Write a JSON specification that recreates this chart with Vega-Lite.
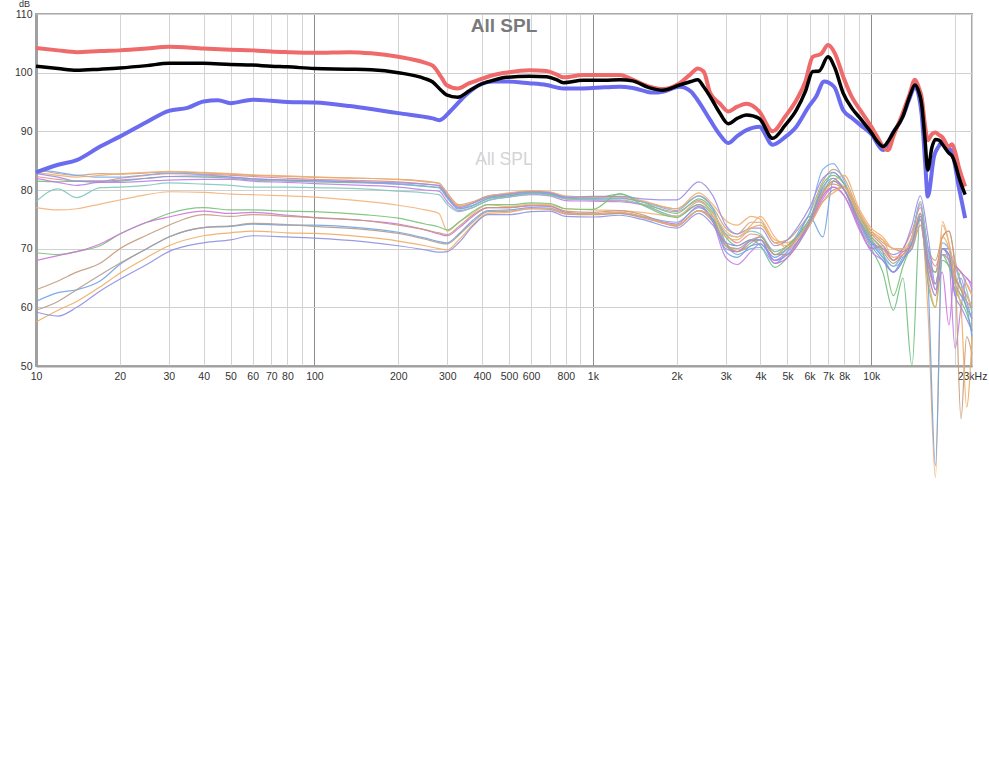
{
"$schema":"https://vega.github.io/schema/vega-lite/v6.json",
"width":936,"height":352,
"autosize":"none",
"padding":{"left":36,"top":14,"right":17,"bottom":404},
"background":"white",
"config":{"view":{"stroke":"#a8a8a8","strokeWidth":2},"font":"Liberation Sans"},
"title":{"text":"All SPL","subtitle":"All SPL","anchor":"middle","offset":-169,"fontSize":19,"fontWeight":"bold","color":"#7a7a7a","font":"Liberation Sans","subtitleFont":"Liberation Sans","subtitleFontSize":17.5,"subtitleColor":"#d4d4d4","subtitlePadding":115},
"datasets":{
"thin":[
{"s":"u1","f":10,"v":82.3},{"s":"u1","f":12,"v":81.8},{"s":"u1","f":14,"v":81.5},{"s":"u1","f":17,"v":81.5},{"s":"u1","f":20,"v":82},{"s":"u1","f":25,"v":82.5},{"s":"u1","f":30,"v":82.8},{"s":"u1","f":40,"v":82.7},{"s":"u1","f":50,"v":82.5},{"s":"u1","f":60,"v":82.3},{"s":"u1","f":80,"v":82},{"s":"u1","f":100,"v":81.8},{"s":"u1","f":150,"v":81.6},{"s":"u1","f":200,"v":81.4},{"s":"u1","f":250,"v":81},{"s":"u1","f":280,"v":80.7},{"s":"u1","f":300,"v":79},{"s":"u1","f":330,"v":77.2},{"s":"u1","f":370,"v":77.8},{"s":"u1","f":420,"v":78.8},{"s":"u1","f":500,"v":79},{"s":"u1","f":600,"v":79.4},{"s":"u1","f":700,"v":79.2},{"s":"u1","f":800,"v":78.5},{"s":"u1","f":1000,"v":78.3},{"s":"u1","f":1250,"v":78.2},{"s":"u1","f":1500,"v":77.6},{"s":"u1","f":2000,"v":76.3},{"s":"u1","f":2400,"v":78.2},{"s":"u1","f":2700,"v":76},{"s":"u1","f":3000,"v":72.5},{"s":"u1","f":3300,"v":71},{"s":"u1","f":3700,"v":72.5},{"s":"u1","f":4000,"v":72.2},{"s":"u1","f":4500,"v":69.5},{"s":"u1","f":5000,"v":70.5},{"s":"u1","f":5500,"v":72.5},{"s":"u1","f":6000,"v":75},{"s":"u1","f":6700,"v":80},{"s":"u1","f":7300,"v":81},{"s":"u1","f":8000,"v":80},{"s":"u1","f":9000,"v":75},{"s":"u1","f":10000,"v":72},{"s":"u1","f":11000,"v":70},{"s":"u1","f":12000,"v":68},{"s":"u1","f":13000,"v":70},{"s":"u1","f":14000,"v":73},{"s":"u1","f":15000,"v":77},{"s":"u1","f":16000,"v":70},{"s":"u1","f":17000,"v":67},{"s":"u1","f":18000,"v":70},{"s":"u1","f":19000,"v":69},{"s":"u1","f":20000,"v":67},{"s":"u1","f":21000,"v":66},{"s":"u1","f":22000,"v":64},{"s":"u1","f":23000,"v":62},
{"s":"u2","f":10,"v":83.5},{"s":"u2","f":12,"v":82.8},{"s":"u2","f":14,"v":82.5},{"s":"u2","f":17,"v":82.8},{"s":"u2","f":20,"v":82.7},{"s":"u2","f":25,"v":82.9},{"s":"u2","f":30,"v":83.1},{"s":"u2","f":40,"v":82.9},{"s":"u2","f":50,"v":82.7},{"s":"u2","f":60,"v":82.5},{"s":"u2","f":80,"v":82.3},{"s":"u2","f":100,"v":82.2},{"s":"u2","f":150,"v":82},{"s":"u2","f":200,"v":81.8},{"s":"u2","f":250,"v":81.5},{"s":"u2","f":280,"v":81.2},{"s":"u2","f":300,"v":79.5},{"s":"u2","f":330,"v":77.5},{"s":"u2","f":370,"v":78},{"s":"u2","f":420,"v":79},{"s":"u2","f":500,"v":79.4},{"s":"u2","f":600,"v":79.8},{"s":"u2","f":700,"v":79.6},{"s":"u2","f":800,"v":78.8},{"s":"u2","f":1000,"v":78.7},{"s":"u2","f":1250,"v":78.6},{"s":"u2","f":1500,"v":78},{"s":"u2","f":2000,"v":76.8},{"s":"u2","f":2400,"v":79},{"s":"u2","f":2700,"v":77},{"s":"u2","f":3000,"v":73.5},{"s":"u2","f":3300,"v":72.5},{"s":"u2","f":3700,"v":74.5},{"s":"u2","f":4000,"v":74.5},{"s":"u2","f":4500,"v":71},{"s":"u2","f":5000,"v":71.5},{"s":"u2","f":5500,"v":73.5},{"s":"u2","f":6000,"v":76},{"s":"u2","f":6700,"v":81.5},{"s":"u2","f":7300,"v":83.5},{"s":"u2","f":8000,"v":82},{"s":"u2","f":9000,"v":76.5},{"s":"u2","f":10000,"v":73},{"s":"u2","f":11000,"v":71},{"s":"u2","f":12000,"v":70},{"s":"u2","f":13000,"v":69.5},{"s":"u2","f":14000,"v":72},{"s":"u2","f":15000,"v":78},{"s":"u2","f":16000,"v":70},{"s":"u2","f":17000,"v":68},{"s":"u2","f":18000,"v":72},{"s":"u2","f":19000,"v":73},{"s":"u2","f":20000,"v":68},{"s":"u2","f":21000,"v":64},{"s":"u2","f":22000,"v":60},{"s":"u2","f":23000,"v":60},
{"s":"u3","f":10,"v":81.5},{"s":"u3","f":12,"v":81.4},{"s":"u3","f":14,"v":81.5},{"s":"u3","f":17,"v":81.3},{"s":"u3","f":20,"v":81.5},{"s":"u3","f":25,"v":82},{"s":"u3","f":30,"v":82.3},{"s":"u3","f":40,"v":82.2},{"s":"u3","f":50,"v":82},{"s":"u3","f":60,"v":81.7},{"s":"u3","f":80,"v":81.5},{"s":"u3","f":100,"v":81.4},{"s":"u3","f":150,"v":81.2},{"s":"u3","f":200,"v":81},{"s":"u3","f":250,"v":80.6},{"s":"u3","f":280,"v":80.4},{"s":"u3","f":300,"v":78.7},{"s":"u3","f":330,"v":76.8},{"s":"u3","f":370,"v":77.3},{"s":"u3","f":420,"v":78.5},{"s":"u3","f":500,"v":79},{"s":"u3","f":600,"v":79.5},{"s":"u3","f":700,"v":79.3},{"s":"u3","f":800,"v":78.6},{"s":"u3","f":1000,"v":78.5},{"s":"u3","f":1250,"v":79.3},{"s":"u3","f":1500,"v":78},{"s":"u3","f":2000,"v":76},{"s":"u3","f":2400,"v":78.5},{"s":"u3","f":2700,"v":76.5},{"s":"u3","f":3000,"v":72},{"s":"u3","f":3300,"v":70.5},{"s":"u3","f":3700,"v":71.5},{"s":"u3","f":4000,"v":70.5},{"s":"u3","f":4500,"v":66.8},{"s":"u3","f":5000,"v":68.5},{"s":"u3","f":5500,"v":71},{"s":"u3","f":6000,"v":74.5},{"s":"u3","f":6700,"v":79.5},{"s":"u3","f":7300,"v":82},{"s":"u3","f":8000,"v":80},{"s":"u3","f":9000,"v":74},{"s":"u3","f":10000,"v":70},{"s":"u3","f":11000,"v":66},{"s":"u3","f":12000,"v":59.5},{"s":"u3","f":13000,"v":65},{"s":"u3","f":14000,"v":50},{"s":"u3","f":15000,"v":76},{"s":"u3","f":16000,"v":68},{"s":"u3","f":17000,"v":66},{"s":"u3","f":18000,"v":69},{"s":"u3","f":19000,"v":67},{"s":"u3","f":20000,"v":65},{"s":"u3","f":21000,"v":63},{"s":"u3","f":22000,"v":60},{"s":"u3","f":23000,"v":58},
{"s":"u4","f":10,"v":82},{"s":"u4","f":12,"v":81.3},{"s":"u4","f":14,"v":80.8},{"s":"u4","f":17,"v":81.3},{"s":"u4","f":20,"v":81.3},{"s":"u4","f":25,"v":81.5},{"s":"u4","f":30,"v":81.7},{"s":"u4","f":40,"v":81.8},{"s":"u4","f":50,"v":81.8},{"s":"u4","f":60,"v":81.5},{"s":"u4","f":80,"v":81.3},{"s":"u4","f":100,"v":81.1},{"s":"u4","f":150,"v":80.8},{"s":"u4","f":200,"v":80.5},{"s":"u4","f":250,"v":80},{"s":"u4","f":280,"v":79.8},{"s":"u4","f":300,"v":78},{"s":"u4","f":330,"v":76.5},{"s":"u4","f":370,"v":77},{"s":"u4","f":420,"v":78.2},{"s":"u4","f":500,"v":78.8},{"s":"u4","f":600,"v":79.2},{"s":"u4","f":700,"v":79},{"s":"u4","f":800,"v":78.2},{"s":"u4","f":1000,"v":78.1},{"s":"u4","f":1250,"v":78},{"s":"u4","f":1500,"v":77.5},{"s":"u4","f":2000,"v":75.5},{"s":"u4","f":2400,"v":77.5},{"s":"u4","f":2700,"v":74.5},{"s":"u4","f":3000,"v":68.5},{"s":"u4","f":3300,"v":67.3},{"s":"u4","f":3700,"v":69.5},{"s":"u4","f":4000,"v":70.8},{"s":"u4","f":4500,"v":68},{"s":"u4","f":5000,"v":69.5},{"s":"u4","f":5500,"v":71.5},{"s":"u4","f":6000,"v":74},{"s":"u4","f":6700,"v":78.5},{"s":"u4","f":7300,"v":80.5},{"s":"u4","f":8000,"v":79},{"s":"u4","f":9000,"v":73.5},{"s":"u4","f":10000,"v":69.5},{"s":"u4","f":11000,"v":68},{"s":"u4","f":12000,"v":66},{"s":"u4","f":13000,"v":68},{"s":"u4","f":14000,"v":72},{"s":"u4","f":15000,"v":77.5},{"s":"u4","f":16000,"v":68},{"s":"u4","f":17000,"v":64},{"s":"u4","f":18000,"v":70},{"s":"u4","f":19000,"v":68},{"s":"u4","f":20000,"v":53},{"s":"u4","f":21000,"v":60},{"s":"u4","f":22000,"v":65},{"s":"u4","f":23000,"v":63},
{"s":"u5","f":10,"v":83.5},{"s":"u5","f":12,"v":83},{"s":"u5","f":14,"v":82.5},{"s":"u5","f":17,"v":82.2},{"s":"u5","f":20,"v":82.2},{"s":"u5","f":25,"v":82.6},{"s":"u5","f":30,"v":82.9},{"s":"u5","f":40,"v":82.6},{"s":"u5","f":50,"v":82.2},{"s":"u5","f":60,"v":81.9},{"s":"u5","f":80,"v":81.7},{"s":"u5","f":100,"v":81.6},{"s":"u5","f":150,"v":81.3},{"s":"u5","f":200,"v":81},{"s":"u5","f":250,"v":80.7},{"s":"u5","f":280,"v":80.4},{"s":"u5","f":300,"v":78.6},{"s":"u5","f":330,"v":76.8},{"s":"u5","f":370,"v":77.4},{"s":"u5","f":420,"v":78.6},{"s":"u5","f":500,"v":79.2},{"s":"u5","f":600,"v":79.6},{"s":"u5","f":700,"v":79.4},{"s":"u5","f":800,"v":78.7},{"s":"u5","f":1000,"v":78.6},{"s":"u5","f":1250,"v":78.6},{"s":"u5","f":1500,"v":78},{"s":"u5","f":2000,"v":76.5},{"s":"u5","f":2400,"v":79},{"s":"u5","f":2700,"v":76.8},{"s":"u5","f":3000,"v":71},{"s":"u5","f":3300,"v":69},{"s":"u5","f":3700,"v":70},{"s":"u5","f":4000,"v":70.2},{"s":"u5","f":4500,"v":67.5},{"s":"u5","f":5000,"v":69.5},{"s":"u5","f":5500,"v":73},{"s":"u5","f":6000,"v":76},{"s":"u5","f":6700,"v":83.5},{"s":"u5","f":7300,"v":84.5},{"s":"u5","f":8000,"v":81.5},{"s":"u5","f":9000,"v":75.5},{"s":"u5","f":10000,"v":71.5},{"s":"u5","f":11000,"v":69},{"s":"u5","f":12000,"v":67},{"s":"u5","f":13000,"v":69},{"s":"u5","f":14000,"v":71},{"s":"u5","f":15000,"v":76},{"s":"u5","f":16000,"v":70},{"s":"u5","f":17000,"v":63},{"s":"u5","f":18000,"v":71},{"s":"u5","f":19000,"v":70},{"s":"u5","f":20000,"v":67},{"s":"u5","f":21000,"v":64},{"s":"u5","f":22000,"v":62},{"s":"u5","f":23000,"v":60},
{"s":"u6","f":10,"v":78},{"s":"u6","f":12,"v":80.2},{"s":"u6","f":14,"v":78.7},{"s":"u6","f":17,"v":80.4},{"s":"u6","f":20,"v":80.5},{"s":"u6","f":25,"v":80.8},{"s":"u6","f":30,"v":81.2},{"s":"u6","f":40,"v":81},{"s":"u6","f":50,"v":80.8},{"s":"u6","f":60,"v":80.5},{"s":"u6","f":80,"v":80.5},{"s":"u6","f":100,"v":80.4},{"s":"u6","f":150,"v":80.2},{"s":"u6","f":200,"v":79.8},{"s":"u6","f":250,"v":79.5},{"s":"u6","f":280,"v":79.2},{"s":"u6","f":300,"v":77.5},{"s":"u6","f":330,"v":76.3},{"s":"u6","f":370,"v":77},{"s":"u6","f":420,"v":78.2},{"s":"u6","f":500,"v":78.8},{"s":"u6","f":600,"v":79.3},{"s":"u6","f":700,"v":79.1},{"s":"u6","f":800,"v":78.5},{"s":"u6","f":1000,"v":78.4},{"s":"u6","f":1250,"v":78.3},{"s":"u6","f":1500,"v":77.6},{"s":"u6","f":2000,"v":75.5},{"s":"u6","f":2400,"v":78},{"s":"u6","f":2700,"v":76.2},{"s":"u6","f":3000,"v":72.5},{"s":"u6","f":3300,"v":72},{"s":"u6","f":3700,"v":73},{"s":"u6","f":4000,"v":72.5},{"s":"u6","f":4500,"v":69.5},{"s":"u6","f":5000,"v":70.5},{"s":"u6","f":5500,"v":72.5},{"s":"u6","f":6000,"v":75},{"s":"u6","f":6700,"v":80},{"s":"u6","f":7300,"v":83},{"s":"u6","f":8000,"v":81},{"s":"u6","f":9000,"v":75.5},{"s":"u6","f":10000,"v":71.5},{"s":"u6","f":11000,"v":68.5},{"s":"u6","f":12000,"v":67},{"s":"u6","f":13000,"v":68},{"s":"u6","f":14000,"v":72},{"s":"u6","f":15000,"v":78},{"s":"u6","f":16000,"v":69},{"s":"u6","f":17000,"v":66},{"s":"u6","f":18000,"v":69},{"s":"u6","f":19000,"v":69},{"s":"u6","f":20000,"v":64},{"s":"u6","f":21000,"v":66},{"s":"u6","f":22000,"v":63},{"s":"u6","f":23000,"v":59},
{"s":"u7","f":10,"v":83},{"s":"u7","f":12,"v":82.5},{"s":"u7","f":14,"v":82.2},{"s":"u7","f":17,"v":82.5},{"s":"u7","f":20,"v":82.8},{"s":"u7","f":25,"v":83},{"s":"u7","f":30,"v":83.2},{"s":"u7","f":40,"v":83},{"s":"u7","f":50,"v":82.8},{"s":"u7","f":60,"v":82.6},{"s":"u7","f":80,"v":82.4},{"s":"u7","f":100,"v":82.2},{"s":"u7","f":150,"v":82},{"s":"u7","f":200,"v":81.8},{"s":"u7","f":250,"v":81.4},{"s":"u7","f":280,"v":81.1},{"s":"u7","f":300,"v":79.3},{"s":"u7","f":330,"v":77.3},{"s":"u7","f":370,"v":77.8},{"s":"u7","f":420,"v":78.9},{"s":"u7","f":500,"v":79.5},{"s":"u7","f":600,"v":79.9},{"s":"u7","f":700,"v":79.7},{"s":"u7","f":800,"v":79},{"s":"u7","f":1000,"v":78.8},{"s":"u7","f":1250,"v":78.8},{"s":"u7","f":1500,"v":78.2},{"s":"u7","f":2000,"v":76.8},{"s":"u7","f":2400,"v":79.5},{"s":"u7","f":2700,"v":77.5},{"s":"u7","f":3000,"v":74.8},{"s":"u7","f":3300,"v":74},{"s":"u7","f":3700,"v":75.5},{"s":"u7","f":4000,"v":75},{"s":"u7","f":4500,"v":71.5},{"s":"u7","f":5000,"v":71},{"s":"u7","f":5500,"v":72.5},{"s":"u7","f":6000,"v":75},{"s":"u7","f":6700,"v":79},{"s":"u7","f":7300,"v":81.5},{"s":"u7","f":8000,"v":82.5},{"s":"u7","f":9000,"v":77},{"s":"u7","f":10000,"v":73.5},{"s":"u7","f":11000,"v":72},{"s":"u7","f":12000,"v":70},{"s":"u7","f":13000,"v":70},{"s":"u7","f":14000,"v":72},{"s":"u7","f":15000,"v":76},{"s":"u7","f":16000,"v":58.7},{"s":"u7","f":17000,"v":31},{"s":"u7","f":18000,"v":74.6},{"s":"u7","f":19000,"v":71},{"s":"u7","f":20000,"v":65},{"s":"u7","f":21000,"v":63},{"s":"u7","f":22000,"v":62},{"s":"u7","f":23000,"v":60},
{"s":"u8","f":10,"v":82.8},{"s":"u8","f":12,"v":82.2},{"s":"u8","f":14,"v":81.5},{"s":"u8","f":17,"v":81.5},{"s":"u8","f":20,"v":81.7},{"s":"u8","f":25,"v":82},{"s":"u8","f":30,"v":82.3},{"s":"u8","f":40,"v":82.4},{"s":"u8","f":50,"v":82.2},{"s":"u8","f":60,"v":81.9},{"s":"u8","f":80,"v":81.7},{"s":"u8","f":100,"v":81.6},{"s":"u8","f":150,"v":81.4},{"s":"u8","f":200,"v":81.2},{"s":"u8","f":250,"v":81},{"s":"u8","f":280,"v":80.8},{"s":"u8","f":300,"v":79},{"s":"u8","f":330,"v":77},{"s":"u8","f":370,"v":77.7},{"s":"u8","f":420,"v":78.8},{"s":"u8","f":500,"v":79.3},{"s":"u8","f":600,"v":79.7},{"s":"u8","f":700,"v":79.5},{"s":"u8","f":800,"v":78.8},{"s":"u8","f":1000,"v":78.9},{"s":"u8","f":1250,"v":78.9},{"s":"u8","f":1500,"v":78.5},{"s":"u8","f":2000,"v":78.3},{"s":"u8","f":2400,"v":81.4},{"s":"u8","f":2700,"v":79},{"s":"u8","f":3000,"v":74},{"s":"u8","f":3300,"v":72.5},{"s":"u8","f":3700,"v":73.5},{"s":"u8","f":4000,"v":73.5},{"s":"u8","f":4500,"v":70.5},{"s":"u8","f":5000,"v":71.5},{"s":"u8","f":5500,"v":74},{"s":"u8","f":6000,"v":77},{"s":"u8","f":6700,"v":82},{"s":"u8","f":7300,"v":83},{"s":"u8","f":8000,"v":81},{"s":"u8","f":9000,"v":75},{"s":"u8","f":10000,"v":71},{"s":"u8","f":11000,"v":70},{"s":"u8","f":12000,"v":69},{"s":"u8","f":13000,"v":70},{"s":"u8","f":14000,"v":74},{"s":"u8","f":15000,"v":79},{"s":"u8","f":16000,"v":72},{"s":"u8","f":17000,"v":64},{"s":"u8","f":18000,"v":70},{"s":"u8","f":19000,"v":69},{"s":"u8","f":20000,"v":62},{"s":"u8","f":21000,"v":65},{"s":"u8","f":22000,"v":61},{"s":"u8","f":23000,"v":58},
{"s":"u9","f":10,"v":77},{"s":"u9","f":12,"v":76.6},{"s":"u9","f":14,"v":76.8},{"s":"u9","f":17,"v":77.6},{"s":"u9","f":20,"v":78.3},{"s":"u9","f":25,"v":79.2},{"s":"u9","f":30,"v":79.7},{"s":"u9","f":40,"v":79.6},{"s":"u9","f":50,"v":79.3},{"s":"u9","f":60,"v":79.2},{"s":"u9","f":80,"v":79},{"s":"u9","f":100,"v":78.8},{"s":"u9","f":150,"v":78.1},{"s":"u9","f":200,"v":77.4},{"s":"u9","f":250,"v":76.6},{"s":"u9","f":280,"v":76},{"s":"u9","f":300,"v":73},{"s":"u9","f":330,"v":74.5},{"s":"u9","f":370,"v":76},{"s":"u9","f":420,"v":77.5},{"s":"u9","f":500,"v":77.2},{"s":"u9","f":600,"v":77.6},{"s":"u9","f":700,"v":77.5},{"s":"u9","f":800,"v":76.8},{"s":"u9","f":1000,"v":76.6},{"s":"u9","f":1250,"v":76.5},{"s":"u9","f":1500,"v":76.2},{"s":"u9","f":2000,"v":75.5},{"s":"u9","f":2400,"v":78},{"s":"u9","f":2700,"v":76},{"s":"u9","f":3000,"v":73},{"s":"u9","f":3300,"v":72},{"s":"u9","f":3700,"v":74},{"s":"u9","f":4000,"v":75.5},{"s":"u9","f":4500,"v":72},{"s":"u9","f":5000,"v":70},{"s":"u9","f":5500,"v":72},{"s":"u9","f":6000,"v":75},{"s":"u9","f":6700,"v":79.5},{"s":"u9","f":7300,"v":81.5},{"s":"u9","f":8000,"v":80.5},{"s":"u9","f":9000,"v":75.5},{"s":"u9","f":10000,"v":72.5},{"s":"u9","f":11000,"v":71.5},{"s":"u9","f":12000,"v":70},{"s":"u9","f":13000,"v":70},{"s":"u9","f":14000,"v":70.5},{"s":"u9","f":15000,"v":75},{"s":"u9","f":16000,"v":66},{"s":"u9","f":17000,"v":62},{"s":"u9","f":18000,"v":74},{"s":"u9","f":19000,"v":71},{"s":"u9","f":20000,"v":66},{"s":"u9","f":21000,"v":62},{"s":"u9","f":22000,"v":64},{"s":"u9","f":23000,"v":62},
{"s":"l1","f":10,"v":69.3},{"s":"l1","f":12,"v":69},{"s":"l1","f":14,"v":69.5},{"s":"l1","f":17,"v":70.5},{"s":"l1","f":20,"v":72.5},{"s":"l1","f":25,"v":74.5},{"s":"l1","f":30,"v":76},{"s":"l1","f":40,"v":77},{"s":"l1","f":50,"v":76.6},{"s":"l1","f":60,"v":76.6},{"s":"l1","f":80,"v":76.4},{"s":"l1","f":100,"v":76.3},{"s":"l1","f":150,"v":75.8},{"s":"l1","f":200,"v":75.2},{"s":"l1","f":250,"v":74.2},{"s":"l1","f":280,"v":73.7},{"s":"l1","f":300,"v":73.2},{"s":"l1","f":330,"v":74.5},{"s":"l1","f":370,"v":76.3},{"s":"l1","f":420,"v":77.5},{"s":"l1","f":500,"v":77.5},{"s":"l1","f":600,"v":77.8},{"s":"l1","f":700,"v":77.7},{"s":"l1","f":800,"v":76.8},{"s":"l1","f":1000,"v":76.7},{"s":"l1","f":1250,"v":79.4},{"s":"l1","f":1500,"v":77.5},{"s":"l1","f":2000,"v":75.3},{"s":"l1","f":2400,"v":77.5},{"s":"l1","f":2700,"v":75.5},{"s":"l1","f":3000,"v":70.5},{"s":"l1","f":3300,"v":69.5},{"s":"l1","f":3700,"v":71},{"s":"l1","f":4000,"v":72},{"s":"l1","f":4500,"v":69},{"s":"l1","f":5000,"v":70.5},{"s":"l1","f":5500,"v":72.5},{"s":"l1","f":6000,"v":75},{"s":"l1","f":6700,"v":81},{"s":"l1","f":7300,"v":82.5},{"s":"l1","f":8000,"v":81},{"s":"l1","f":9000,"v":76},{"s":"l1","f":10000,"v":72},{"s":"l1","f":11000,"v":69.5},{"s":"l1","f":12000,"v":62},{"s":"l1","f":13000,"v":67},{"s":"l1","f":14000,"v":71},{"s":"l1","f":15000,"v":75},{"s":"l1","f":16000,"v":64},{"s":"l1","f":17000,"v":60},{"s":"l1","f":18000,"v":68},{"s":"l1","f":19000,"v":67},{"s":"l1","f":20000,"v":63},{"s":"l1","f":21000,"v":61},{"s":"l1","f":22000,"v":59},{"s":"l1","f":23000,"v":56},
{"s":"l2","f":10,"v":68},{"s":"l2","f":12,"v":68.8},{"s":"l2","f":14,"v":69.5},{"s":"l2","f":17,"v":70.8},{"s":"l2","f":20,"v":72.5},{"s":"l2","f":25,"v":74.5},{"s":"l2","f":30,"v":75.4},{"s":"l2","f":40,"v":76.4},{"s":"l2","f":50,"v":76},{"s":"l2","f":60,"v":76.2},{"s":"l2","f":80,"v":75.7},{"s":"l2","f":100,"v":75.3},{"s":"l2","f":150,"v":74.8},{"s":"l2","f":200,"v":74.2},{"s":"l2","f":250,"v":73.2},{"s":"l2","f":280,"v":72.5},{"s":"l2","f":300,"v":72.2},{"s":"l2","f":330,"v":73.5},{"s":"l2","f":370,"v":75.5},{"s":"l2","f":420,"v":77},{"s":"l2","f":500,"v":77},{"s":"l2","f":600,"v":77.3},{"s":"l2","f":700,"v":77.2},{"s":"l2","f":800,"v":76.2},{"s":"l2","f":1000,"v":75.9},{"s":"l2","f":1250,"v":76.2},{"s":"l2","f":1500,"v":75.5},{"s":"l2","f":2000,"v":74.2},{"s":"l2","f":2400,"v":77.2},{"s":"l2","f":2700,"v":74.8},{"s":"l2","f":3000,"v":70},{"s":"l2","f":3300,"v":69.5},{"s":"l2","f":3700,"v":71.3},{"s":"l2","f":4000,"v":71.5},{"s":"l2","f":4500,"v":67.5},{"s":"l2","f":5000,"v":68.5},{"s":"l2","f":5500,"v":71},{"s":"l2","f":6000,"v":74},{"s":"l2","f":6700,"v":79},{"s":"l2","f":7300,"v":80.5},{"s":"l2","f":8000,"v":79},{"s":"l2","f":9000,"v":74},{"s":"l2","f":10000,"v":70},{"s":"l2","f":11000,"v":70.5},{"s":"l2","f":12000,"v":68},{"s":"l2","f":13000,"v":69.5},{"s":"l2","f":14000,"v":70.5},{"s":"l2","f":15000,"v":75.5},{"s":"l2","f":16000,"v":68},{"s":"l2","f":17000,"v":63},{"s":"l2","f":18000,"v":66},{"s":"l2","f":19000,"v":57},{"s":"l2","f":20000,"v":67},{"s":"l2","f":21000,"v":66},{"s":"l2","f":22000,"v":65},{"s":"l2","f":23000,"v":64},
{"s":"l3","f":10,"v":63},{"s":"l3","f":12,"v":64.5},{"s":"l3","f":14,"v":66},{"s":"l3","f":17,"v":67.5},{"s":"l3","f":20,"v":70},{"s":"l3","f":25,"v":72.3},{"s":"l3","f":30,"v":74},{"s":"l3","f":40,"v":75.8},{"s":"l3","f":50,"v":75.5},{"s":"l3","f":60,"v":75.8},{"s":"l3","f":80,"v":75.5},{"s":"l3","f":100,"v":75.3},{"s":"l3","f":150,"v":74.8},{"s":"l3","f":200,"v":74},{"s":"l3","f":250,"v":73.2},{"s":"l3","f":280,"v":72.7},{"s":"l3","f":300,"v":72.4},{"s":"l3","f":330,"v":73.8},{"s":"l3","f":370,"v":75.7},{"s":"l3","f":420,"v":77},{"s":"l3","f":500,"v":77},{"s":"l3","f":600,"v":77.4},{"s":"l3","f":700,"v":77.3},{"s":"l3","f":800,"v":76.4},{"s":"l3","f":1000,"v":76.2},{"s":"l3","f":1250,"v":76.5},{"s":"l3","f":1500,"v":75.8},{"s":"l3","f":2000,"v":73.8},{"s":"l3","f":2400,"v":76.5},{"s":"l3","f":2700,"v":75},{"s":"l3","f":3000,"v":71},{"s":"l3","f":3300,"v":69.5},{"s":"l3","f":3700,"v":70.5},{"s":"l3","f":4000,"v":71.5},{"s":"l3","f":4500,"v":69},{"s":"l3","f":5000,"v":69},{"s":"l3","f":5500,"v":71.5},{"s":"l3","f":6000,"v":74},{"s":"l3","f":6700,"v":78},{"s":"l3","f":7300,"v":80},{"s":"l3","f":8000,"v":80.5},{"s":"l3","f":9000,"v":76},{"s":"l3","f":10000,"v":72.5},{"s":"l3","f":11000,"v":70.5},{"s":"l3","f":12000,"v":68},{"s":"l3","f":13000,"v":69},{"s":"l3","f":14000,"v":70},{"s":"l3","f":15000,"v":74},{"s":"l3","f":16000,"v":67},{"s":"l3","f":17000,"v":66},{"s":"l3","f":18000,"v":72},{"s":"l3","f":19000,"v":73},{"s":"l3","f":20000,"v":66},{"s":"l3","f":21000,"v":41},{"s":"l3","f":22000,"v":55},{"s":"l3","f":23000,"v":52},
{"s":"l4","f":10,"v":61},{"s":"l4","f":12,"v":62.5},{"s":"l4","f":14,"v":63},{"s":"l4","f":17,"v":64.5},{"s":"l4","f":20,"v":67.3},{"s":"l4","f":25,"v":70},{"s":"l4","f":30,"v":72},{"s":"l4","f":40,"v":73.6},{"s":"l4","f":50,"v":73.8},{"s":"l4","f":60,"v":74.2},{"s":"l4","f":80,"v":74},{"s":"l4","f":100,"v":74},{"s":"l4","f":150,"v":73.5},{"s":"l4","f":200,"v":72.8},{"s":"l4","f":250,"v":71.8},{"s":"l4","f":280,"v":71.2},{"s":"l4","f":300,"v":71},{"s":"l4","f":330,"v":72.5},{"s":"l4","f":370,"v":74.8},{"s":"l4","f":420,"v":76.5},{"s":"l4","f":500,"v":76.6},{"s":"l4","f":600,"v":77},{"s":"l4","f":700,"v":76.9},{"s":"l4","f":800,"v":76},{"s":"l4","f":1000,"v":75.9},{"s":"l4","f":1250,"v":76},{"s":"l4","f":1500,"v":75.5},{"s":"l4","f":2000,"v":74.5},{"s":"l4","f":2400,"v":77},{"s":"l4","f":2700,"v":75},{"s":"l4","f":3000,"v":69.5},{"s":"l4","f":3300,"v":68.5},{"s":"l4","f":3700,"v":70.5},{"s":"l4","f":4000,"v":70.8},{"s":"l4","f":4500,"v":68.5},{"s":"l4","f":5000,"v":70},{"s":"l4","f":5500,"v":72.5},{"s":"l4","f":6000,"v":75.5},{"s":"l4","f":6700,"v":72},{"s":"l4","f":7300,"v":81.5},{"s":"l4","f":8000,"v":80},{"s":"l4","f":9000,"v":75},{"s":"l4","f":10000,"v":71},{"s":"l4","f":11000,"v":68.5},{"s":"l4","f":12000,"v":66},{"s":"l4","f":13000,"v":68.5},{"s":"l4","f":14000,"v":70},{"s":"l4","f":15000,"v":75.5},{"s":"l4","f":16000,"v":64},{"s":"l4","f":17000,"v":33},{"s":"l4","f":18000,"v":70},{"s":"l4","f":19000,"v":70},{"s":"l4","f":20000,"v":64},{"s":"l4","f":21000,"v":62},{"s":"l4","f":22000,"v":60},{"s":"l4","f":23000,"v":55},
{"s":"l5","f":10,"v":59.5},{"s":"l5","f":12,"v":61},{"s":"l5","f":14,"v":63},{"s":"l5","f":17,"v":65.5},{"s":"l5","f":20,"v":67.5},{"s":"l5","f":25,"v":70},{"s":"l5","f":30,"v":72},{"s":"l5","f":40,"v":73.6},{"s":"l5","f":50,"v":73.9},{"s":"l5","f":60,"v":74.3},{"s":"l5","f":80,"v":74.1},{"s":"l5","f":100,"v":73.8},{"s":"l5","f":150,"v":73.3},{"s":"l5","f":200,"v":72.6},{"s":"l5","f":250,"v":71.6},{"s":"l5","f":280,"v":71},{"s":"l5","f":300,"v":70.8},{"s":"l5","f":330,"v":72.3},{"s":"l5","f":370,"v":74.5},{"s":"l5","f":420,"v":76.3},{"s":"l5","f":500,"v":76.4},{"s":"l5","f":600,"v":76.8},{"s":"l5","f":700,"v":76.7},{"s":"l5","f":800,"v":75.9},{"s":"l5","f":1000,"v":75.8},{"s":"l5","f":1250,"v":76},{"s":"l5","f":1500,"v":75.3},{"s":"l5","f":2000,"v":74},{"s":"l5","f":2400,"v":76.5},{"s":"l5","f":2700,"v":74.5},{"s":"l5","f":3000,"v":70.5},{"s":"l5","f":3300,"v":70},{"s":"l5","f":3700,"v":71.5},{"s":"l5","f":4000,"v":72},{"s":"l5","f":4500,"v":69},{"s":"l5","f":5000,"v":70},{"s":"l5","f":5500,"v":72},{"s":"l5","f":6000,"v":74.5},{"s":"l5","f":6700,"v":79.5},{"s":"l5","f":7300,"v":81.5},{"s":"l5","f":8000,"v":80},{"s":"l5","f":9000,"v":75},{"s":"l5","f":10000,"v":71.5},{"s":"l5","f":11000,"v":69.5},{"s":"l5","f":12000,"v":67.5},{"s":"l5","f":13000,"v":69},{"s":"l5","f":14000,"v":71},{"s":"l5","f":15000,"v":76},{"s":"l5","f":16000,"v":67},{"s":"l5","f":17000,"v":64},{"s":"l5","f":18000,"v":69},{"s":"l5","f":19000,"v":68},{"s":"l5","f":20000,"v":65},{"s":"l5","f":21000,"v":63},{"s":"l5","f":22000,"v":61},{"s":"l5","f":23000,"v":60},
{"s":"l6","f":10,"v":57.5},{"s":"l6","f":12,"v":59.5},{"s":"l6","f":14,"v":61},{"s":"l6","f":17,"v":63.5},{"s":"l6","f":20,"v":65.8},{"s":"l6","f":25,"v":68.5},{"s":"l6","f":30,"v":70.5},{"s":"l6","f":40,"v":72.2},{"s":"l6","f":50,"v":72.7},{"s":"l6","f":60,"v":73},{"s":"l6","f":80,"v":72.7},{"s":"l6","f":100,"v":72.6},{"s":"l6","f":150,"v":72},{"s":"l6","f":200,"v":71.3},{"s":"l6","f":250,"v":70.5},{"s":"l6","f":280,"v":70},{"s":"l6","f":300,"v":69.8},{"s":"l6","f":330,"v":71.5},{"s":"l6","f":370,"v":74},{"s":"l6","f":420,"v":76},{"s":"l6","f":500,"v":76.2},{"s":"l6","f":600,"v":76.8},{"s":"l6","f":700,"v":76.8},{"s":"l6","f":800,"v":76},{"s":"l6","f":1000,"v":75.9},{"s":"l6","f":1250,"v":76.2},{"s":"l6","f":1500,"v":75.5},{"s":"l6","f":2000,"v":74},{"s":"l6","f":2400,"v":76.5},{"s":"l6","f":2700,"v":75.5},{"s":"l6","f":3000,"v":72},{"s":"l6","f":3300,"v":71.5},{"s":"l6","f":3700,"v":73.5},{"s":"l6","f":4000,"v":74},{"s":"l6","f":4500,"v":71},{"s":"l6","f":5000,"v":70.5},{"s":"l6","f":5500,"v":72},{"s":"l6","f":6000,"v":74},{"s":"l6","f":6700,"v":78},{"s":"l6","f":7300,"v":79.5},{"s":"l6","f":8000,"v":80.5},{"s":"l6","f":9000,"v":76},{"s":"l6","f":10000,"v":73},{"s":"l6","f":11000,"v":71.5},{"s":"l6","f":12000,"v":68.5},{"s":"l6","f":13000,"v":69},{"s":"l6","f":14000,"v":70.5},{"s":"l6","f":15000,"v":75},{"s":"l6","f":16000,"v":65},{"s":"l6","f":17000,"v":60},{"s":"l6","f":18000,"v":72},{"s":"l6","f":19000,"v":70},{"s":"l6","f":20000,"v":64},{"s":"l6","f":21000,"v":60},{"s":"l6","f":22000,"v":43},{"s":"l6","f":23000,"v":55},
{"s":"l7","f":10,"v":59.2},{"s":"l7","f":12,"v":58.5},{"s":"l7","f":14,"v":60},{"s":"l7","f":17,"v":62.8},{"s":"l7","f":20,"v":64.8},{"s":"l7","f":25,"v":67.3},{"s":"l7","f":30,"v":69.5},{"s":"l7","f":40,"v":71},{"s":"l7","f":50,"v":71.5},{"s":"l7","f":60,"v":72.2},{"s":"l7","f":80,"v":72},{"s":"l7","f":100,"v":71.8},{"s":"l7","f":150,"v":71.2},{"s":"l7","f":200,"v":70.5},{"s":"l7","f":250,"v":69.8},{"s":"l7","f":280,"v":69.4},{"s":"l7","f":300,"v":69.5},{"s":"l7","f":330,"v":71},{"s":"l7","f":370,"v":73.8},{"s":"l7","f":420,"v":75.8},{"s":"l7","f":500,"v":75.8},{"s":"l7","f":600,"v":76.3},{"s":"l7","f":700,"v":76.4},{"s":"l7","f":800,"v":75.5},{"s":"l7","f":1000,"v":75.4},{"s":"l7","f":1250,"v":75.7},{"s":"l7","f":1500,"v":75},{"s":"l7","f":2000,"v":73.5},{"s":"l7","f":2400,"v":76},{"s":"l7","f":2700,"v":74},{"s":"l7","f":3000,"v":71},{"s":"l7","f":3300,"v":70.5},{"s":"l7","f":3700,"v":71.5},{"s":"l7","f":4000,"v":71.5},{"s":"l7","f":4500,"v":68},{"s":"l7","f":5000,"v":69},{"s":"l7","f":5500,"v":71.5},{"s":"l7","f":6000,"v":74.5},{"s":"l7","f":6700,"v":80.5},{"s":"l7","f":7300,"v":82},{"s":"l7","f":8000,"v":80},{"s":"l7","f":9000,"v":74.5},{"s":"l7","f":10000,"v":70.5},{"s":"l7","f":11000,"v":68},{"s":"l7","f":12000,"v":66},{"s":"l7","f":13000,"v":68},{"s":"l7","f":14000,"v":71},{"s":"l7","f":15000,"v":75},{"s":"l7","f":16000,"v":66},{"s":"l7","f":17000,"v":62},{"s":"l7","f":18000,"v":70},{"s":"l7","f":19000,"v":69},{"s":"l7","f":20000,"v":62},{"s":"l7","f":21000,"v":60},{"s":"l7","f":22000,"v":58},{"s":"l7","f":23000,"v":56}
],
"thick":[
{"s":"B","f":10,"v":83.0},{"s":"B","f":12,"v":84.3},{"s":"B","f":14,"v":85.1},{"s":"B","f":17,"v":87.4},{"s":"B","f":20,"v":89.1},{"s":"B","f":25,"v":91.6},{"s":"B","f":30,"v":93.5},{"s":"B","f":35,"v":94.0},{"s":"B","f":40,"v":95.1},{"s":"B","f":45,"v":95.3},{"s":"B","f":50,"v":94.8},{"s":"B","f":60,"v":95.4},{"s":"B","f":70,"v":95.2},{"s":"B","f":80,"v":95.0},{"s":"B","f":100,"v":94.9},{"s":"B","f":134,"v":94.3},{"s":"B","f":160,"v":93.8},{"s":"B","f":200,"v":93.1},{"s":"B","f":266,"v":92.2},{"s":"B","f":281,"v":91.9},{"s":"B","f":310,"v":93.6},{"s":"B","f":350,"v":96.2},{"s":"B","f":391,"v":97.9},{"s":"B","f":438,"v":98.5},{"s":"B","f":489,"v":98.5},{"s":"B","f":591,"v":98.2},{"s":"B","f":681,"v":97.9},{"s":"B","f":784,"v":97.3},{"s":"B","f":921,"v":97.3},{"s":"B","f":1100,"v":97.5},{"s":"B","f":1250,"v":97.6},{"s":"B","f":1390,"v":97.4},{"s":"B","f":1640,"v":96.6},{"s":"B","f":1800,"v":96.8},{"s":"B","f":2050,"v":97.6},{"s":"B","f":2250,"v":96.8},{"s":"B","f":2380,"v":95.3},{"s":"B","f":2640,"v":91.9},{"s":"B","f":2850,"v":89.5},{"s":"B","f":3060,"v":88.0},{"s":"B","f":3300,"v":89.2},{"s":"B","f":3565,"v":90.2},{"s":"B","f":3960,"v":90.8},{"s":"B","f":4420,"v":87.7},{"s":"B","f":4900,"v":89.0},{"s":"B","f":5380,"v":90.8},{"s":"B","f":5960,"v":94.2},{"s":"B","f":6330,"v":95.9},{"s":"B","f":6770,"v":98.5},{"s":"B","f":7350,"v":97.6},{"s":"B","f":7930,"v":93.6},{"s":"B","f":8500,"v":92.3},{"s":"B","f":9130,"v":91.1},{"s":"B","f":10000,"v":89.5},{"s":"B","f":11030,"v":86.8},{"s":"B","f":11950,"v":89.7},{"s":"B","f":12970,"v":92.5},{"s":"B","f":13700,"v":95.5},{"s":"B","f":14350,"v":97.6},{"s":"B","f":15150,"v":93.1},{"s":"B","f":15600,"v":85.0},{"s":"B","f":15950,"v":78.9},{"s":"B","f":16800,"v":85.7},{"s":"B","f":17500,"v":87.5},{"s":"B","f":18000,"v":88.3},{"s":"B","f":18990,"v":87.1},{"s":"B","f":19500,"v":86.5},{"s":"B","f":20600,"v":80.6},{"s":"B","f":21730,"v":75.2},
{"s":"R","f":10,"v":104.2},{"s":"R","f":12,"v":103.8},{"s":"R","f":14,"v":103.5},{"s":"R","f":17,"v":103.7},{"s":"R","f":20,"v":103.8},{"s":"R","f":25,"v":104.1},{"s":"R","f":30,"v":104.4},{"s":"R","f":40,"v":104.1},{"s":"R","f":50,"v":103.9},{"s":"R","f":60,"v":103.8},{"s":"R","f":70,"v":103.6},{"s":"R","f":80,"v":103.5},{"s":"R","f":100,"v":103.4},{"s":"R","f":134,"v":103.5},{"s":"R","f":160,"v":103.3},{"s":"R","f":200,"v":102.7},{"s":"R","f":249,"v":101.7},{"s":"R","f":266,"v":101.2},{"s":"R","f":285,"v":99.3},{"s":"R","f":298,"v":97.9},{"s":"R","f":327,"v":97.3},{"s":"R","f":360,"v":98.2},{"s":"R","f":391,"v":98.8},{"s":"R","f":440,"v":99.6},{"s":"R","f":489,"v":100.0},{"s":"R","f":591,"v":100.4},{"s":"R","f":681,"v":100.3},{"s":"R","f":740,"v":99.7},{"s":"R","f":784,"v":99.2},{"s":"R","f":921,"v":99.6},{"s":"R","f":1100,"v":99.6},{"s":"R","f":1250,"v":99.6},{"s":"R","f":1390,"v":98.8},{"s":"R","f":1600,"v":97.6},{"s":"R","f":1780,"v":97.2},{"s":"R","f":2050,"v":98.2},{"s":"R","f":2250,"v":99.8},{"s":"R","f":2380,"v":100.7},{"s":"R","f":2500,"v":100.2},{"s":"R","f":2640,"v":96.5},{"s":"R","f":2850,"v":94.8},{"s":"R","f":3060,"v":93.4},{"s":"R","f":3300,"v":94.2},{"s":"R","f":3565,"v":94.7},{"s":"R","f":3960,"v":93.4},{"s":"R","f":4420,"v":90.0},{"s":"R","f":4900,"v":92.5},{"s":"R","f":5380,"v":95.3},{"s":"R","f":5800,"v":98.5},{"s":"R","f":6160,"v":102.7},{"s":"R","f":6600,"v":103.2},{"s":"R","f":6990,"v":104.7},{"s":"R","f":7400,"v":103.3},{"s":"R","f":7930,"v":99.3},{"s":"R","f":8500,"v":95.9},{"s":"R","f":9130,"v":93.6},{"s":"R","f":10000,"v":90.8},{"s":"R","f":10500,"v":89.1},{"s":"R","f":11030,"v":87.4},{"s":"R","f":11500,"v":86.8},{"s":"R","f":12000,"v":89.1},{"s":"R","f":12970,"v":93.1},{"s":"R","f":13700,"v":96.2},{"s":"R","f":14350,"v":98.8},{"s":"R","f":14800,"v":97.5},{"s":"R","f":15150,"v":95.9},{"s":"R","f":15600,"v":91.0},{"s":"R","f":15950,"v":88.5},{"s":"R","f":16500,"v":89.5},{"s":"R","f":17000,"v":89.8},{"s":"R","f":17500,"v":89.4},{"s":"R","f":18000,"v":89.0},{"s":"R","f":18990,"v":87.4},{"s":"R","f":19500,"v":87.8},{"s":"R","f":20000,"v":86.5},{"s":"R","f":20600,"v":84.0},{"s":"R","f":21730,"v":80.6},
{"s":"K","f":10,"v":101.1},{"s":"K","f":12,"v":100.7},{"s":"K","f":14,"v":100.4},{"s":"K","f":17,"v":100.6},{"s":"K","f":20,"v":100.8},{"s":"K","f":25,"v":101.2},{"s":"K","f":30,"v":101.6},{"s":"K","f":40,"v":101.6},{"s":"K","f":50,"v":101.4},{"s":"K","f":60,"v":101.3},{"s":"K","f":70,"v":101.1},{"s":"K","f":80,"v":101.0},{"s":"K","f":100,"v":100.7},{"s":"K","f":134,"v":100.6},{"s":"K","f":160,"v":100.5},{"s":"K","f":200,"v":100.0},{"s":"K","f":249,"v":99.0},{"s":"K","f":266,"v":98.4},{"s":"K","f":285,"v":97.0},{"s":"K","f":298,"v":96.2},{"s":"K","f":327,"v":95.8},{"s":"K","f":360,"v":96.9},{"s":"K","f":391,"v":97.9},{"s":"K","f":440,"v":98.7},{"s":"K","f":489,"v":99.2},{"s":"K","f":591,"v":99.4},{"s":"K","f":681,"v":99.3},{"s":"K","f":740,"v":98.8},{"s":"K","f":784,"v":98.3},{"s":"K","f":921,"v":98.7},{"s":"K","f":1100,"v":98.7},{"s":"K","f":1250,"v":98.8},{"s":"K","f":1390,"v":98.6},{"s":"K","f":1600,"v":97.4},{"s":"K","f":1780,"v":97.0},{"s":"K","f":2050,"v":97.9},{"s":"K","f":2250,"v":98.5},{"s":"K","f":2380,"v":98.8},{"s":"K","f":2500,"v":97.6},{"s":"K","f":2640,"v":95.9},{"s":"K","f":2850,"v":93.2},{"s":"K","f":3060,"v":91.3},{"s":"K","f":3300,"v":92.2},{"s":"K","f":3565,"v":92.8},{"s":"K","f":3960,"v":92.2},{"s":"K","f":4420,"v":88.8},{"s":"K","f":4900,"v":91.0},{"s":"K","f":5380,"v":93.6},{"s":"K","f":5800,"v":96.8},{"s":"K","f":6160,"v":100.2},{"s":"K","f":6500,"v":100.3},{"s":"K","f":6990,"v":102.7},{"s":"K","f":7400,"v":100.8},{"s":"K","f":7930,"v":96.5},{"s":"K","f":8500,"v":94.0},{"s":"K","f":9130,"v":92.2},{"s":"K","f":10000,"v":89.8},{"s":"K","f":10500,"v":88.3},{"s":"K","f":11030,"v":87.4},{"s":"K","f":11500,"v":88.3},{"s":"K","f":12000,"v":89.8},{"s":"K","f":12970,"v":92.5},{"s":"K","f":13700,"v":95.8},{"s":"K","f":14350,"v":97.9},{"s":"K","f":14800,"v":96.8},{"s":"K","f":15150,"v":94.8},{"s":"K","f":15600,"v":88.5},{"s":"K","f":15950,"v":83.4},{"s":"K","f":16500,"v":87.2},{"s":"K","f":17000,"v":88.6},{"s":"K","f":17500,"v":88.5},{"s":"K","f":18000,"v":87.8},{"s":"K","f":18990,"v":86.3},{"s":"K","f":19500,"v":85.8},{"s":"K","f":20000,"v":84.5},{"s":"K","f":20600,"v":82.3},{"s":"K","f":21730,"v":79.2}
]
},
"layer":[
{"data":{"name":"thin"},
 "mark":{"type":"line","strokeWidth":1.2,"opacity":0.9,"interpolate":"monotone"},
 "encoding":{
  "x":{"field":"f","type":"quantitative","scale":{"type":"log","domain":[10,23000],"nice":false},
   "axis":{"title":null,"values":[10,20,30,40,50,60,70,80,90,100,200,300,400,500,600,700,800,900,1000,2000,3000,4000,5000,6000,7000,8000,9000,10000,20000,23000],
    "labelExpr":"datum.value == 23000 ? '23kHz' : (indexof([90,700,900,9000,20000], datum.value) >= 0 ? '' : (datum.value >= 1000 ? (datum.value/1000) + 'k' : '' + datum.value))",
    "labelFlush":false,"labelOverlap":false,"ticks":false,"labelPadding":5,"labelFontSize":10.5,"labelColor":"#333333","labelFont":"Liberation Sans",
    "grid":true,"gridColor":{"condition":{"test":"datum.value == 100 || datum.value == 1000 || datum.value == 10000","value":"#8c8c8c"},"value":"#d4d4d4"},
    "domainColor":"#a0a0a0","domainWidth":2}},
  "y":{"field":"v","type":"quantitative","scale":{"domain":[50,110],"nice":false,"zero":false},
   "axis":{"values":[50,60,70,80,90,100,110],"title":"dB","titleAngle":0,"titleX":-12,"titleY":-7.5,"titleAlign":"center","titleBaseline":"alphabetic","titleFontSize":9,"titleFontWeight":"normal","titleColor":"#333333","titleFont":"Liberation Sans",
    "ticks":false,"labelPadding":4,"labelFontSize":10.5,"labelColor":"#333333","labelFont":"Liberation Sans","grid":true,"gridColor":"#d0d0d0","domainColor":"#a0a0a0","domainWidth":3}},
  "color":{"field":"s","type":"nominal","legend":null,
   "scale":{"domain":["u1","u2","u3","u4","u5","u6","u7","u8","u9","l1","l2","l3","l4","l5","l6","l7"],
    "range":["#e88a8a","#c9a27e","#6fbf7f","#c07ee8","#7aaeea","#7fc9bd","#f2ad6b","#9a8ee6","#f2b27a","#77c277","#cf72dc","#c49a7a","#6fa3e6","#b39c8f","#f0ab63","#8f8fe3"]}}
 }},
{"data":{"name":"thick"},"transform":[{"filter":"datum.s == 'B'"}],
 "mark":{"type":"line","strokeWidth":4,"color":"#6b6bef","interpolate":"monotone"},
 "encoding":{"x":{"field":"f","type":"quantitative"},"y":{"field":"v","type":"quantitative"}}},
{"data":{"name":"thick"},"transform":[{"filter":"datum.s == 'R'"}],
 "mark":{"type":"line","strokeWidth":4,"color":"#ef6b6b","interpolate":"monotone"},
 "encoding":{"x":{"field":"f","type":"quantitative"},"y":{"field":"v","type":"quantitative"}}},
{"data":{"name":"thick"},"transform":[{"filter":"datum.s == 'K'"}],
 "mark":{"type":"line","strokeWidth":3.5,"color":"#000000","interpolate":"monotone"},
 "encoding":{"x":{"field":"f","type":"quantitative"},"y":{"field":"v","type":"quantitative"}}}
]
}
